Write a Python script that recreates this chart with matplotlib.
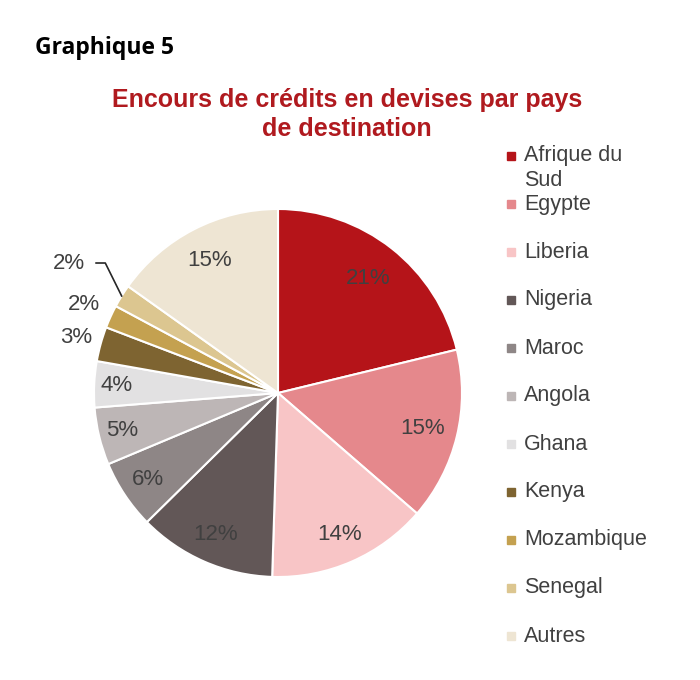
import numpy as np
import matplotlib
matplotlib.use('Agg')
import matplotlib.pyplot as plt
from matplotlib.patches import Rectangle

# data
pays = ['Afrique du\nSud', 'Egypte', 'Liberia', 'Nigeria', 'Maroc', 'Angola',
        'Ghana', 'Kenya', 'Mozambique', 'Senegal', 'Autres']
parts = [21, 15, 14, 12, 6, 5, 4, 3, 2, 2, 15]
couleurs = ['#B51419', '#E5888C', '#F8C5C6', '#625757', '#8E8686', '#BDB6B6',
            '#E2E1E2', '#7E6431', '#C4A150', '#DCC690', '#EEE5D3']

# label distance from centre (in radius units)
dist = [0.79, 0.81, 0.84, 0.84, 0.85, 0.87, 0.88, 1.14, 1.16, 1.34, 0.81]

plt.rcParams['font.family'] = ['Liberation Sans', 'DejaVu Sans']
grey = '#404040'

fig = plt.figure(figsize=(7, 6.8), dpi=100)
W, H = 700, 680
R = 184
cx, cy = 278, 393
half = 1.3 * R
ax = fig.add_axes([(cx - half) / W, (H - cy - half) / H, 2 * half / W, 2 * half / H])

wedges, _ = ax.pie(parts, colors=couleurs, startangle=90, counterclock=False,
                   wedgeprops=dict(edgecolor='white', linewidth=1.5))
ax.set_xlim(-1.3, 1.3)
ax.set_ylim(-1.3, 1.3)
ax.set_aspect('equal')
ax.axis('off')

for i, w in enumerate(wedges):
    a = np.deg2rad((w.theta1 + w.theta2) / 2)
    x, y = dist[i] * np.cos(a), dist[i] * np.sin(a)
    ax.text(x, y, '{}%'.format(parts[i]), ha='center', va='center',
            fontsize=16, color=grey)
    if i == 9:
        # Senegal, with leader line
        ax.plot([x + 0.15, x + 0.2, np.cos(a) * 1.0], [y, y, np.sin(a) * 1.0],
                color='#262626', lw=1.2)

fig.text(35 / W, 1 - 48 / H, 'Graphique 5', fontsize=16.5, fontweight='bold',
         family=['Open Sans', 'DejaVu Sans'], va='center', ha='left', color='black')
fig.text(347 / W, 1 - 100 / H, 'Encours de crédits en devises par pays',
         fontsize=18, fontweight='bold', color='#B01A1F', ha='center', va='center')
fig.text(347 / W, 1 - 129 / H, 'de destination',
         fontsize=18, fontweight='bold', color='#B01A1F', ha='center', va='center')

# legend
for i, p in enumerate(pays):
    yy = 156 if i == 0 else 204 + 48 * (i - 1)
    fig.patches.append(Rectangle((507 / W, 1 - (yy + 4) / H), 8 / W, 8 / H,
                                 transform=fig.transFigure, color=couleurs[i]))
    lignes = p.split('\n')
    fig.text(524 / W, 1 - yy / H, lignes[0], fontsize=15.5, color=grey,
             ha='left', va='center')
    if len(lignes) > 1:
        fig.text(524 / W, 1 - (yy + 25) / H, lignes[1], fontsize=15.5,
                 color=grey, ha='left', va='center')

plt.savefig('out.png', dpi=100)
